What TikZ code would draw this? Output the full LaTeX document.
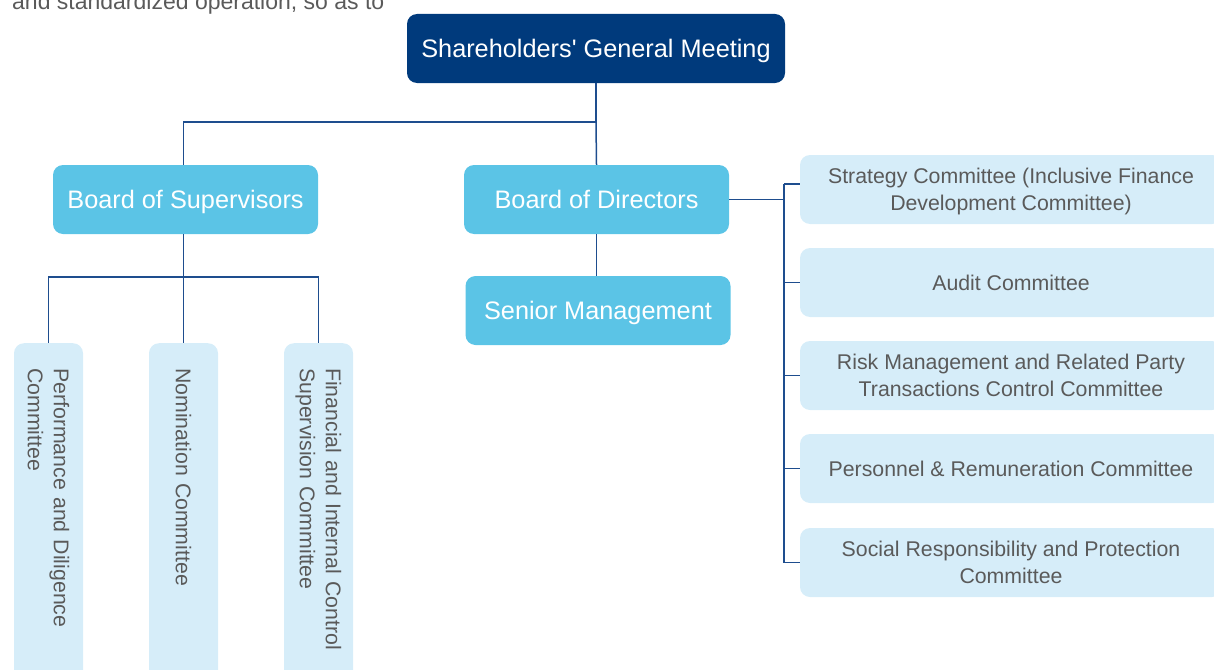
\documentclass[tikz,border=0pt]{standalone}
\usepackage{fontspec}
\setmainfont{Liberation Sans}[Ligatures=TeXOff]
\definecolor{sgmblue}{HTML}{003A7C}
\definecolor{midblue}{HTML}{5BC4E6}
\definecolor{lightblue}{HTML}{D6EDF9}
\definecolor{txtgray}{HTML}{5A5A5A}
\definecolor{linkblue}{HTML}{1E4D8E}
\begin{document}
\begin{tikzpicture}[x=1pt,y=-1pt,
  dark/.style={fill=sgmblue, text=white, rounded corners=10pt, minimum width=378pt, minimum height=69pt, inner sep=0pt, text depth=0pt, font=\fontsize{25.3}{30}\selectfont},
  mid/.style={fill=midblue, text=white, rounded corners=10pt, minimum width=265pt, minimum height=69pt, inner sep=0pt, text depth=0pt, font=\fontsize{25.3}{30}\selectfont},
  rbox/.style={fill=lightblue, text=txtgray, rounded corners=10pt, minimum width=422pt, minimum height=69pt, inner sep=0pt, align=center, text depth=0pt, font=\fontsize{21.3}{27}\selectfont},
  vbox/.style={fill=lightblue, text=txtgray, rounded corners=10pt, rotate=-90, anchor=west, minimum height=69pt, inner xsep=25pt, inner ysep=0pt, text width=310pt, align=left, font=\fontsize{21.3}{26}\selectfont},
  link/.style={draw=linkblue, line width=1.5pt},
  fragtext/.style={text=txtgray, inner sep=0pt, anchor=base west, font=\fontsize{23}{27}\selectfont}]
\useasboundingbox (0,0) rectangle (1214,669);
\clip (0,0) rectangle (1214,669);

\node[fragtext] (frag) at (12,10) {and standardized operation, so as to};

\node[dark] (sgm) at (596,48.5) {Shareholders' General Meeting};
\node[mid] (bos) at (185.5,199.5) {Board of Supervisors};
\node[mid] (bod) at (596.5,199.5) {Board of Directors};
\node[mid] (sm) at (598,310.5) {Senior Management};

\node[rbox] (r1) at (1011,189.5) {Strategy Committee (Inclusive Finance\\Development Committee)};
\node[rbox] (r2) at (1011,282.5) {Audit Committee};
\node[rbox] (r3) at (1011,375.5) {Risk Management and Related Party\\Transactions Control Committee};
\node[rbox] (r4) at (1011,468.5) {Personnel \& Remuneration Committee};
\node[rbox] (r5) at (1011,562.5) {Social Responsibility and Protection\\Committee};

\node[vbox] (v1) at (48.5,343) {Performance and Diligence\\Committee};
\node[vbox] (v2) at (183.5,343) {Nomination Committee};
\node[vbox] (v3) at (318.5,343) {Financial and Internal Control\\Supervision Committee};

\coordinate (j1) at (597,122);
\coordinate (j2) at (183.5,277);
\coordinate (rj) at (784,201);

\draw[link] (sgm.south) -- (sgm.south |- j1) -| (bos.north -| v2.west);
\draw[link] (sgm.south |- j1) -- (bod.north);
\draw[link] (bod.south) -- (sm.north -| bod.south);

\draw[link] (bos.south -| v2.west) -- (v2.west);
\draw[link] (v1.west) -- (v1.west |- j2) -- (v3.west |- j2) -- (v3.west);

\draw[link] (bod.east) -- (bod.east -| rj);
\draw[link] ([yshift=5.5pt]r1.west -| rj) -- (r5.west -| rj);
\draw[link] ([yshift=5.5pt]r1.west -| rj) -- ([yshift=5.5pt]r1.west);
\foreach \k in {2,3,4,5} {\draw[link] (r\k.west -| rj) -- (r\k.west);}
\end{tikzpicture}
\end{document}
